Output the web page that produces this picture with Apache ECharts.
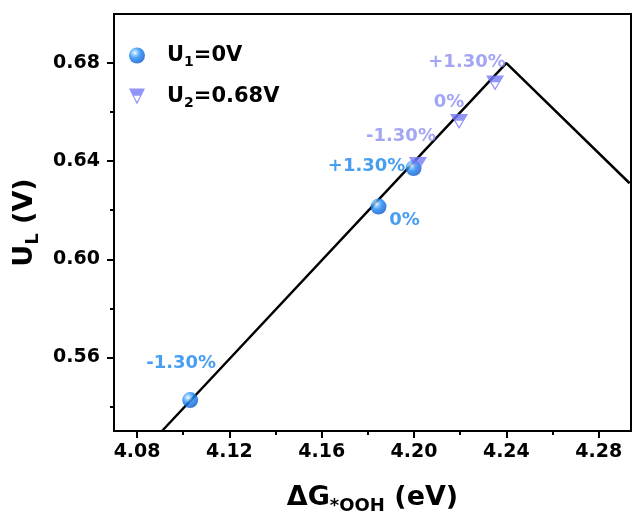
<!DOCTYPE html>
<html>
<head>
<meta charset="utf-8">
<script src="https://cdn.jsdelivr.net/npm/echarts@6/dist/echarts.min.js"></script>
<style>
  html, body { margin: 0; padding: 0; background: #fff; }
  #main { width: 632px; height: 512px; }
</style>
</head>
<body>
<div id="main"></div>
<script>
(function () {

    // volcano line (ΔG*OOH, UL)
    var volcanoX = [4.0908, 4.24, 4.2934];
    var volcanoY = [0.53, 0.68, 0.631];

    // U1 = 0V points
    var u1X = [4.103, 4.1846, 4.1998];
    var u1Y = [0.5426, 0.6215, 0.6372];
    var u1Labels = ['-1.30%', '0%', '+1.30%'];

    // U2 = 0.68V points
    var u2X = [4.2017, 4.2195, 4.2351];
    var u2Y = [0.6386, 0.6562, 0.6719];
    var u2Labels = ['-1.30%', '0%', '+1.30%'];

    // ticks
    var xMajor = [4.08, 4.12, 4.16, 4.20, 4.24, 4.28];
    var xMinor = [4.10, 4.14, 4.18, 4.22, 4.26];
    var yMajor = [0.56, 0.60, 0.64, 0.68];
    var yMinor = [0.54, 0.58, 0.62, 0.66];

    var FONT = 'DejaVu Sans';
    var U1_COLOR = '#1a86ee';
    var U2_COLOR = '#8c8ef2';
    var TRI_COLOR = '#7679f6';

    // half filled inverted triangle (inner lower part is a hole)
    var triPath = 'path://M0,0 L10,0 L5,10 Z M3.0,4.6 L5,8.3 L7.0,4.6 Z';

    var sphere = {
        type: 'radial', x: 0.36, y: 0.33, r: 0.72,
        colorStops: [
            { offset: 0, color: '#ffffff' },
            { offset: 0.18, color: '#8ccbff' },
            { offset: 0.5, color: '#1784f4' },
            { offset: 1, color: '#0a55c4' }
        ]
    };

    // label placement for each point (offsets in px)
    var u1Offsets = [[-9, -15], [26, 36], [-47, 20]];
    var u2Offsets = [[-17, -7], [-10, 2], [-28, 1]];

    function pts(xs, ys) {
        return xs.map(function (x, i) { return [x, ys[i]]; });
    }

    function labelled(xs, ys, labels, offsets, color) {
        return xs.map(function (x, i) {
            return {
                value: [x, ys[i]],
                label: {
                    show: true, position: 'top', offset: offsets[i],
                    formatter: labels[i], color: color,
                    fontFamily: FONT, fontWeight: 'bold', fontSize: 18
                }
            };
        });
    }

    var tickLabel = { fontFamily: FONT, fontWeight: 'bold', fontSize: 19, color: '#000' };
    var titleRich = {
        b: { fontFamily: FONT, fontWeight: 'bold', fontSize: 27, color: '#000' },
        s: { fontFamily: FONT, fontWeight: 'bold', fontSize: 18, color: '#000', padding: [16, 0, 0, 0] }
    };

    var option = {
        backgroundColor: '#fff',
        animation: false,
        grid: {
            left: 114, right: 1, top: 14, bottom: 81,
            outerBoundsMode: 'none',
            show: true, borderColor: '#000', borderWidth: 2
        },
        legend: {
            orient: 'vertical', left: 124, top: 40, itemGap: 17,
            itemWidth: 18, itemHeight: 16,
            data: [
                { name: 'U1', icon: 'circle' },
                { name: 'U2', icon: triPath }
            ],
            formatter: function (n) {
                return n === 'U1' ? '{b|U}{s|1}{b|=0V}' : '{b|U}{s|2}{b|=0.68V}';
            },
            textStyle: {
                padding: [0, 0, 0, 16],
                rich: {
                    b: { fontFamily: FONT, fontWeight: 'bold', fontSize: 21, color: '#000' },
                    s: { fontFamily: FONT, fontWeight: 'bold', fontSize: 14, color: '#000', padding: [13, 0, 0, 0] }
                }
            }
        },
        xAxis: [{
            type: 'value', min: 4.07, max: 4.294,
            splitLine: { show: false },
            axisLine: { show: true, lineStyle: { color: '#000', width: 2 } },
            axisTick: { show: true, inside: false, length: 7, lineStyle: { width: 2, color: '#000' }, customValues: xMajor },
            axisLabel: Object.assign({ margin: 12, customValues: xMajor, formatter: function (v) { return v.toFixed(2); } }, tickLabel),
            name: '{b|ΔG}{s|*OOH}{b| (eV)}',
            nameLocation: 'middle', nameGap: 50,
            nameTextStyle: { rich: titleRich }
        }, {
            type: 'value', min: 4.07, max: 4.294, position: 'bottom',
            splitLine: { show: false }, axisLine: { show: false },
            axisTick: { show: true, length: 4, lineStyle: { width: 2, color: '#000' }, customValues: xMinor },
            axisLabel: { show: false }
        }],
        yAxis: [{
            type: 'value', min: 0.53, max: 0.70,
            splitLine: { show: false },
            axisLine: { show: true, lineStyle: { color: '#000', width: 2 } },
            axisTick: { show: true, length: 7, lineStyle: { width: 2, color: '#000' }, customValues: yMajor },
            axisLabel: Object.assign({ margin: 14, customValues: yMajor, formatter: function (v) { return v.toFixed(2); } }, tickLabel),
            name: '{b|U}{s|L}{b| (V)}',
            nameLocation: 'middle', nameGap: 68,
            nameTextStyle: { rich: titleRich }
        }, {
            type: 'value', min: 0.53, max: 0.70, position: 'left',
            splitLine: { show: false }, axisLine: { show: false },
            axisTick: { show: true, length: 4, lineStyle: { width: 2, color: '#000' }, customValues: yMinor },
            axisLabel: { show: false }
        }],
        series: [{
            name: 'volcano', type: 'line',
            data: pts(volcanoX, volcanoY),
            symbol: 'none', silent: true,
            lineStyle: { color: '#000', width: 2.5 },
            z: 2
        }, {
            name: 'U1', type: 'scatter',
            data: labelled(u1X, u1Y, u1Labels, u1Offsets, U1_COLOR),
            symbol: 'circle', symbolSize: 16,
            itemStyle: { color: sphere },
            z: 4
        }, {
            name: 'U2', type: 'scatter',
            data: labelled(u2X, u2Y, u2Labels, u2Offsets, U2_COLOR),
            symbol: triPath, symbolSize: [18, 15],
            itemStyle: { color: TRI_COLOR },
            z: 5
        }]
    };

    echarts.init(document.getElementById('main')).setOption(option);

})();
</script>
</body>
</html>
